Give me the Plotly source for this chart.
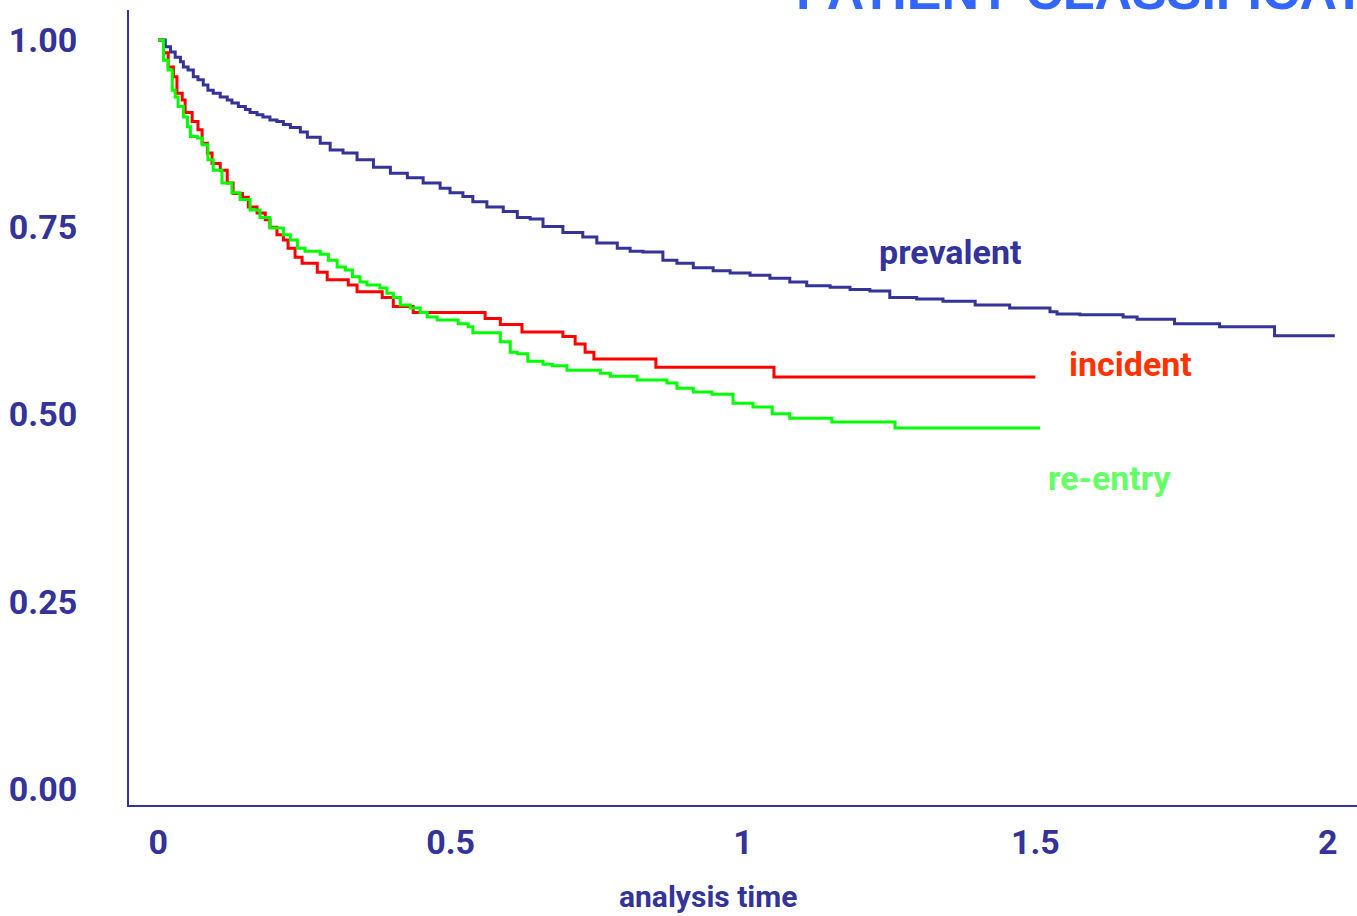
import plotly.graph_objects as go

# ---- data (Kaplan-Meier step curves: time of drop, survival after drop) ----
prev_t = [0.0, 0.012, 0.021, 0.029, 0.038, 0.043, 0.051, 0.060, 0.068, 0.077,
          0.085, 0.094, 0.106, 0.118, 0.126, 0.137, 0.149, 0.157, 0.169, 0.179,
          0.191, 0.203, 0.214, 0.226, 0.243, 0.255, 0.277, 0.294, 0.316, 0.340,
          0.368, 0.397, 0.426, 0.453, 0.482, 0.499, 0.521, 0.538, 0.562, 0.590,
          0.614, 0.636, 0.658, 0.692, 0.726, 0.750, 0.785, 0.807, 0.829, 0.863,
          0.887, 0.915, 0.949, 0.978, 1.012, 1.046, 1.080, 1.109, 1.149, 1.183,
          1.217, 1.251, 1.297, 1.342, 1.397, 1.456, 1.525, 1.537, 1.576, 1.650,
          1.674, 1.738, 1.815, 1.909, 2.012]
prev_s = [1.000, 0.991, 0.984, 0.977, 0.971, 0.964, 0.960, 0.951, 0.947, 0.940,
          0.933, 0.929, 0.924, 0.920, 0.916, 0.911, 0.907, 0.903, 0.900, 0.897,
          0.893, 0.891, 0.887, 0.883, 0.877, 0.870, 0.862, 0.853, 0.849, 0.840,
          0.830, 0.822, 0.816, 0.809, 0.802, 0.796, 0.791, 0.784, 0.777, 0.771,
          0.763, 0.761, 0.751, 0.743, 0.737, 0.729, 0.722, 0.718, 0.717, 0.706,
          0.702, 0.696, 0.692, 0.689, 0.686, 0.682, 0.677, 0.672, 0.670, 0.667,
          0.665, 0.656, 0.654, 0.651, 0.646, 0.642, 0.637, 0.634, 0.633, 0.630,
          0.627, 0.621, 0.617, 0.605, 0.605]

inc_t = [0.0, 0.009, 0.017, 0.026, 0.032, 0.041, 0.046, 0.058, 0.068, 0.075,
         0.084, 0.092, 0.106, 0.118, 0.128, 0.144, 0.154, 0.169, 0.183, 0.191,
         0.203, 0.214, 0.222, 0.234, 0.246, 0.272, 0.289, 0.325, 0.340, 0.383,
         0.402, 0.436, 0.559, 0.585, 0.622, 0.692, 0.713, 0.730, 0.745, 0.851,
         1.053, 1.500]
inc_s = [1.000, 0.983, 0.964, 0.951, 0.929, 0.920, 0.903, 0.891, 0.880, 0.862,
         0.849, 0.835, 0.826, 0.809, 0.795, 0.790, 0.777, 0.769, 0.760, 0.750,
         0.740, 0.733, 0.722, 0.710, 0.702, 0.690, 0.680, 0.673, 0.664, 0.656,
         0.644, 0.636, 0.628, 0.620, 0.610, 0.604, 0.594, 0.583, 0.574, 0.563,
         0.550, 0.550]

re_t = [0.0, 0.009, 0.017, 0.024, 0.029, 0.034, 0.043, 0.050, 0.055, 0.067,
        0.075, 0.085, 0.094, 0.109, 0.126, 0.140, 0.157, 0.174, 0.191, 0.214,
        0.226, 0.238, 0.251, 0.277, 0.291, 0.306, 0.320, 0.332, 0.345, 0.357,
        0.379, 0.391, 0.402, 0.414, 0.431, 0.448, 0.460, 0.477, 0.513, 0.530,
        0.538, 0.585, 0.602, 0.614, 0.632, 0.658, 0.674, 0.699, 0.756, 0.773,
        0.819, 0.870, 0.887, 0.915, 0.947, 0.983, 1.017, 1.050, 1.080, 1.152,
        1.260, 1.508]
re_s = [1.000, 0.973, 0.960, 0.933, 0.924, 0.911, 0.897, 0.884, 0.871, 0.869,
        0.860, 0.840, 0.826, 0.809, 0.796, 0.787, 0.773, 0.763, 0.749, 0.740,
        0.733, 0.722, 0.718, 0.714, 0.706, 0.697, 0.693, 0.684, 0.677, 0.673,
        0.669, 0.662, 0.656, 0.646, 0.642, 0.636, 0.630, 0.626, 0.621, 0.617,
        0.609, 0.597, 0.583, 0.581, 0.571, 0.567, 0.565, 0.559, 0.555, 0.551,
        0.546, 0.542, 0.535, 0.530, 0.527, 0.515, 0.510, 0.501, 0.495, 0.490,
        0.482, 0.482]

x_ticks = [0, 0.5, 1, 1.5, 2]
x_ticktext = ["0", "0.5", "1", "1.5", "2"]
y_ticks = [0, 0.25, 0.5, 0.75, 1.0]
y_ticktext = ["0.00", "0.25", "0.50", "0.75", "1.00"]

NAVY = "#333399"
FONT = "Roboto, Liberation Sans, Arial, sans-serif"

fig = go.Figure()
for t, s, c in [(prev_t, prev_s, NAVY), (inc_t, inc_s, "#ff0000"), (re_t, re_s, "#00ff00")]:
    fig.add_trace(go.Scatter(x=t, y=s, mode="lines", line=dict(color=c, width=3, shape="hv"),
                             showlegend=False, hoverinfo="skip"))

fig.update_layout(
    width=1357, height=916,
    margin=dict(l=129, r=0, t=10, b=111, autoexpand=False),
    paper_bgcolor="white", plot_bgcolor="white",
    xaxis=dict(range=[-0.05, 2.05], tickvals=x_ticks, ticktext=x_ticktext,
               showgrid=False, zeroline=False, showline=True, linecolor=NAVY, linewidth=2,
               ticks="", ticklabelstandoff=6, automargin=False,
               tickfont=dict(family=FONT, size=34, color=NAVY, weight="bold")),
    yaxis=dict(range=[-0.0214, 1.040], tickvals=y_ticks, ticktext=y_ticktext,
               showgrid=False, zeroline=False, showline=True, linecolor=NAVY, linewidth=2,
               ticks="", ticklabelstandoff=43, automargin=False,
               tickfont=dict(family=FONT, size=34, color=NAVY, weight="bold")),
)

lab_font = dict(family=FONT, size=34, weight="bold")
fig.add_annotation(x=1.354, y=0.717, text="prevalent", showarrow=False,
                   font=dict(**lab_font, color=NAVY))
fig.add_annotation(x=1.662, y=0.567, text="incident", showarrow=False,
                   font=dict(**lab_font, color="#ff3300"))
fig.add_annotation(x=1.627, y=0.415, text="re-entry", showarrow=False,
                   font=dict(**lab_font, color="#66ff66"))

fig.add_annotation(xref="paper", yref="paper", x=0.4715, y=-0.1157, text="analysis time",
                   showarrow=False, xanchor="center", yanchor="middle",
                   font=dict(family=FONT, size=30, color=NAVY, weight="bold"))

fig.add_annotation(xref="paper", yref="paper", x=0.5415, y=0.985, text="PATIENT CLASSIFICATION",
                   showarrow=False, xanchor="left", yanchor="bottom",
                   font=dict(family="Liberation Sans, Arial, sans-serif", size=52,
                             color="#3366ff", weight="bold"))

fig.write_html("out.html", config={"displayModeBar": False},
               post_script="document.body.style.margin='0';document.body.style.overflow='hidden';")
